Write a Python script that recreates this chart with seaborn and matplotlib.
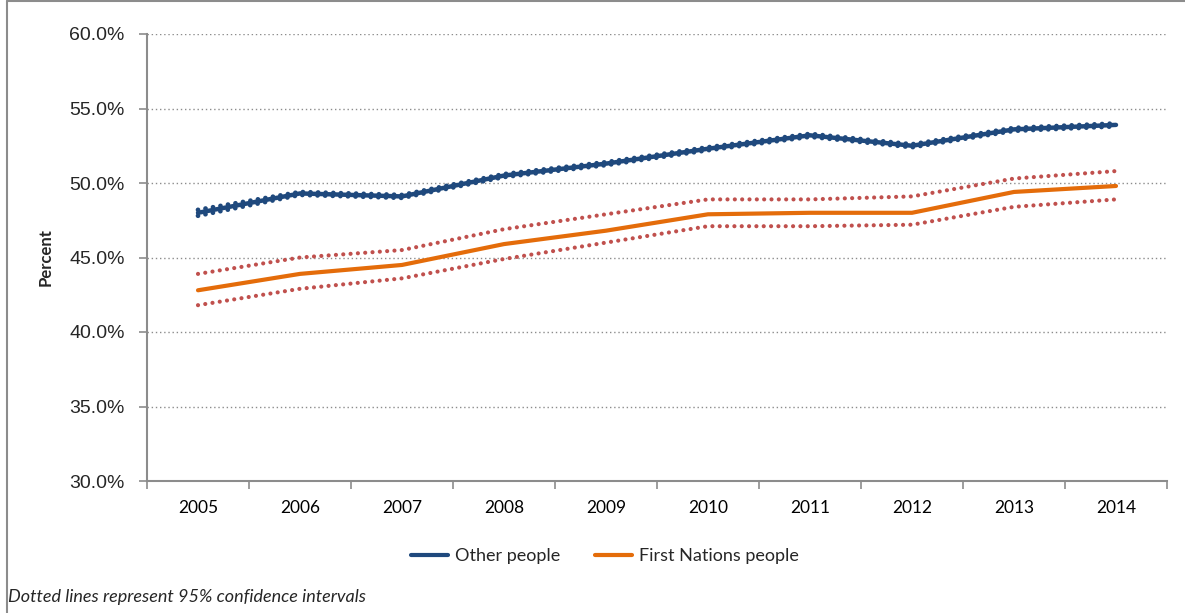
import matplotlib
matplotlib.use("Agg")
import matplotlib.pyplot as plt
from matplotlib.lines import Line2D
from matplotlib.ticker import FixedLocator, FuncFormatter
import numpy as np
import pandas as pd
import seaborn as sns

# Share of people (%) by year, with 95% confidence bounds
years = ["2005", "2006", "2007", "2008", "2009", "2010", "2011", "2012", "2013", "2014"]
other = [48.0, 49.3, 49.1, 50.5, 51.3, 52.3, 53.2, 52.5, 53.6, 53.9]
other_upper = [48.2, 49.4, 49.2, 50.6, 51.4, 52.4, 53.3, 52.6, 53.7, 54.0]
other_lower = [47.8, 49.2, 49.0, 50.4, 51.2, 52.2, 53.1, 52.4, 53.5, 53.8]
first_nations = [42.8, 43.9, 44.5, 45.9, 46.8, 47.9, 48.0, 48.0, 49.4, 49.8]
fn_upper = [43.9, 45.0, 45.5, 46.9, 47.9, 48.9, 48.9, 49.1, 50.3, 50.8]
fn_lower = [41.8, 42.9, 43.6, 44.9, 46.0, 47.1, 47.1, 47.2, 48.4, 48.9]
y_ticks = [30, 35, 40, 45, 50, 55, 60]

sns.set_style("white")
plt.rcParams["font.family"] = ["Lato", "DejaVu Sans"]

BLUE = "#1F497D"
ORANGE = "#E46C0A"
RED = "#C0504D"
GREY = "#8C8C8C"

df = pd.DataFrame({
    "pos": np.arange(len(years)),
    "other": other, "other_upper": other_upper, "other_lower": other_lower,
    "fn": first_nations, "fn_upper": fn_upper, "fn_lower": fn_lower,
})

fig = plt.figure(figsize=(11.85, 6.13), dpi=100)
ax = fig.add_axes([147 / 1185, 1 - 481 / 613, (1167 - 147) / 1185, (481 - 34) / 613])

dot = (0, (0.01, 1.75))
# confidence bounds
sns.lineplot(data=df, x="pos", y="fn_upper", ax=ax, color=RED, lw=3.0,
             linestyle=dot, dash_capstyle="round", zorder=3)
sns.lineplot(data=df, x="pos", y="fn_lower", ax=ax, color=RED, lw=3.0,
             linestyle=dot, dash_capstyle="round", zorder=3)
sns.lineplot(data=df, x="pos", y="other_upper", ax=ax, color=BLUE, lw=3.4,
             linestyle=(0, (0.01, 1.6)), dash_capstyle="round", zorder=3)
sns.lineplot(data=df, x="pos", y="other_lower", ax=ax, color=BLUE, lw=3.4,
             linestyle=(0, (0.01, 1.6)), dash_capstyle="round", zorder=3)
# main series
sns.lineplot(data=df, x="pos", y="other", ax=ax, color=BLUE, lw=3.2,
             solid_capstyle="round", zorder=4)
sns.lineplot(data=df, x="pos", y="fn", ax=ax, color=ORANGE, lw=3.0,
             solid_capstyle="round", zorder=4)

ax.set_xlim(-0.5, len(years) - 0.5)
ax.set_ylim(30, 60)

# y axis
ax.yaxis.set_major_locator(FixedLocator(y_ticks))
ax.yaxis.set_major_formatter(FuncFormatter(lambda v, p: f"{v:.1f}%"))
for t in y_ticks[1:]:
    ax.axhline(t, color=GREY, lw=1.0, linestyle=(0, (1, 2)), zorder=1)
ax.tick_params(axis="y", which="major", direction="out", length=6, width=1.2,
               color=GREY, pad=10, labelsize=14, left=True)
for lab in ax.get_yticklabels():
    lab.set_fontfamily("Liberation Sans")

# x axis: tick marks between categories, labels centered
ax.xaxis.set_major_locator(FixedLocator(np.arange(-0.5, len(years))))
ax.xaxis.set_major_formatter(FuncFormatter(lambda v, p: ""))
ax.set_xticks(np.arange(len(years)), labels=years, minor=True)
ax.tick_params(axis="x", which="major", direction="out", length=6, width=1.2,
               color=GREY, bottom=True)
ax.tick_params(axis="x", which="minor", length=0, pad=14, labelsize=12.5,
               labelcolor="black")

for s in ["top", "right"]:
    ax.spines[s].set_visible(False)
for s in ["left", "bottom"]:
    ax.spines[s].set_color(GREY)
    ax.spines[s].set_linewidth(1.5)

ax.set_xlabel("")
ax.set_ylabel("Percent", fontsize=12, fontweight="bold", labelpad=11)

# legend
handles = [Line2D([], [], color=BLUE, lw=3), Line2D([], [], color=ORANGE, lw=3)]
fig.legend(handles, ["Other people", "First Nations people"], loc="center",
           bbox_to_anchor=(605 / 1185, 1 - 556 / 613), ncol=2, frameon=False,
           fontsize=13, handlelength=2.05, columnspacing=1.9, handletextpad=0.4)

fig.text(8 / 1185, 1 - 597 / 613, "Dotted lines represent 95% confidence intervals",
         fontsize=13, style="italic", va="center", ha="left")

# chart border
fig.add_artist(Line2D([6.5 / 1185, 6.5 / 1185], [0, 1 - 1 / 613],
                      transform=fig.transFigure, color=GREY, lw=1.5))
fig.add_artist(Line2D([6.5 / 1185, 1], [1 - 1 / 613, 1 - 1 / 613],
                      transform=fig.transFigure, color=GREY, lw=1.5))

fig.savefig("out.png", dpi=100)
